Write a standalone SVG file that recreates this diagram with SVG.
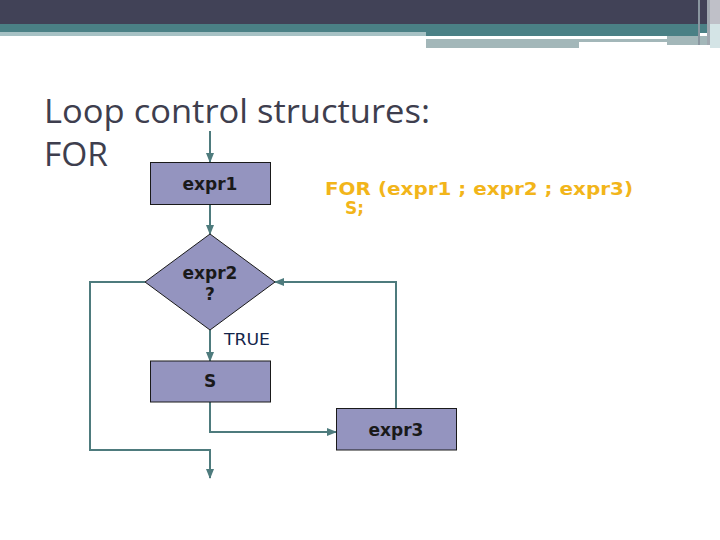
<svg xmlns="http://www.w3.org/2000/svg" width="720" height="540" viewBox="0 0 720 540">
<style>
.box{fill:#9494bf;stroke:#1a1a1a;stroke-width:1}
.lbl{font-family:"DejaVu Sans",Verdana,sans-serif;font-weight:bold;font-size:17px;fill:#1a1a1a;text-anchor:middle}
.con{fill:none;stroke:#4e7b7d;stroke-width:2}
.title{font-family:"Open Sans","Liberation Sans",sans-serif;font-size:33px;fill:#3e3e4e}
.code{font-family:"DejaVu Sans",Verdana,sans-serif;font-weight:bold;font-size:17px;fill:#f2b51a}
</style>
<defs>
<marker id="ah" markerUnits="userSpaceOnUse" markerWidth="10" markerHeight="8" refX="9" refY="4" orient="auto">
<path d="M0,0 L10,4 L0,8 z" fill="#4e7b7d"/>
</marker>
</defs>
<g id="header">
<rect x="0" y="0" width="720" height="24" fill="#414257"/>
<rect x="0" y="24" width="720" height="9" fill="#4a8085"/>
<rect x="0" y="32" width="426" height="4" fill="#a6c1c4"/>
<rect x="426" y="32" width="272" height="4" fill="#4a8085"/>
<rect x="426" y="39" width="241" height="3" fill="#a3b7b9"/>
<rect x="426" y="42" width="153" height="6" fill="#a3b7b9"/>
<rect x="667" y="36" width="40" height="9" fill="#a3b7b9"/>
<rect x="698" y="0" width="2" height="45" fill="#8a96a0"/>
<rect x="707" y="0" width="3" height="45" fill="#a0a8b0"/>
<rect x="710" y="0" width="10" height="24" fill="#bfc0c8"/>
<rect x="710" y="24" width="10" height="24" fill="#d4e4e6"/>
</g>
<g id="title">
<text class="title" x="44" y="123" textLength="386" lengthAdjust="spacingAndGlyphs">Loop control structures:</text>
<text class="title" x="44" y="166" textLength="64" lengthAdjust="spacingAndGlyphs">FOR</text>
</g>
<g id="code">
<text class="code" x="325" y="195" textLength="308" lengthAdjust="spacingAndGlyphs">FOR (expr1 ; expr2 ; expr3)</text>
<text class="code" x="345" y="214">S;</text>
</g>
<g id="connectors">
<path class="con" d="M210,131 V162" marker-end="url(#ah)"/>
<path class="con" d="M210,204 V234" marker-end="url(#ah)"/>
<path class="con" d="M145,282 H90 V450 H210 V478" marker-end="url(#ah)"/>
<path class="con" d="M210,330 V361" marker-end="url(#ah)"/>
<path class="con" d="M210,402 V432 H336" marker-end="url(#ah)"/>
<path class="con" d="M396,408 V282 H275" marker-end="url(#ah)"/>
<text x="224" y="345" font-family="DejaVu Sans,Verdana,sans-serif" font-size="16" fill="#13254a" textLength="46" lengthAdjust="spacingAndGlyphs">TRUE</text>
</g>
<g id="expr1">
<rect class="box" x="150.5" y="162.5" width="120" height="42"/>
<text class="lbl" x="210" y="190">expr1</text>
</g>
<g id="expr2">
<polygon class="box" points="210,234 275,282 210,330 145,282"/>
<text class="lbl" x="210" y="279">expr2</text>
<text class="lbl" x="210" y="300">?</text>
</g>
<g id="S">
<rect class="box" x="150.5" y="361" width="120" height="41"/>
<text class="lbl" x="210" y="387">S</text>
</g>
<g id="expr3">
<rect class="box" x="336.5" y="408.5" width="120" height="41.5"/>
<text class="lbl" x="396" y="436">expr3</text>
</g>
</svg>
